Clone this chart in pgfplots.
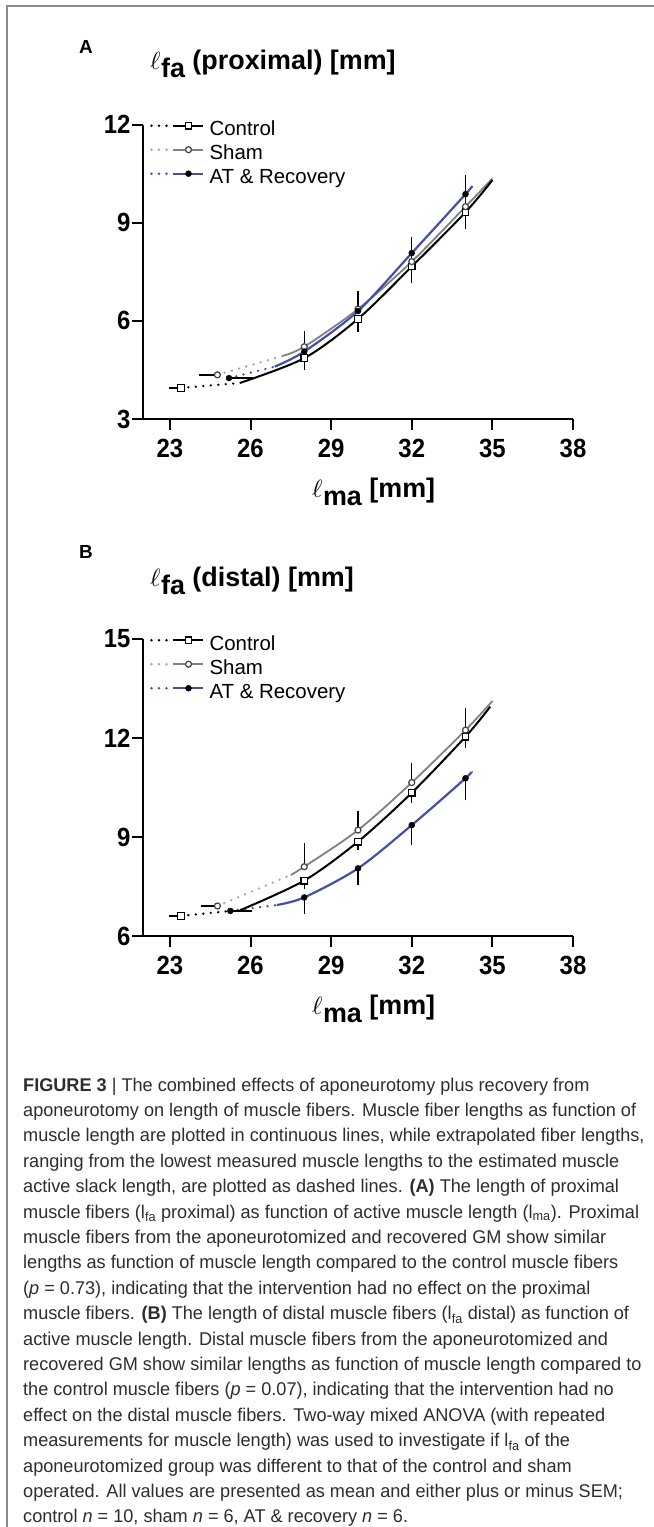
\documentclass[border=0pt]{standalone}
\usepackage{fontspec}
\setmainfont{Liberation Sans}
\usepackage{pgfplots}
\pgfplotsset{compat=1.18}
\definecolor{atblue}{RGB}{66,80,168}
\definecolor{shamline}{RGB}{128,128,128}
\definecolor{shamdot}{RGB}{165,165,165}
\definecolor{framegray}{RGB}{140,140,140}
\definecolor{captxt}{RGB}{45,45,45}

\tikzset{dotseg/.style={line width=2.6bp, dash pattern=on 0bp off 7.5bp, line cap=round}}

\newcommand\ellsub[1]{{\fontsize{10}{10}\selectfont\scalebox{2.5}{$\ell$}}\kern0.5bp\raisebox{-8bp}{#1}}
\newcommand\capline[2]{\node[anchor=base west, inner sep=0pt, font=\fontsize{18.5}{18.5}\selectfont, text=captxt] at (23bp,{-1091bp-#1*25.41bp}) {\scalebox{0.983}[1]{#2}};}

\pgfplotsset{
  panel/.style={
    scale only axis, width=430bp,
    xmin=22, xmax=38,
    axis x line*=bottom, axis y line*=left,
    axis line style={line width=2bp, black},
    xtick={23,26,29,32,35,38},
    tick align=outside, major tick length=11bp,
    every tick/.append style={black, line width=2bp},
    tick label style={font=\bfseries\fontsize{24}{24}\selectfont},
    xticklabel style={yshift=-6bp},
    yticklabel style={xshift=2bp},
    xticklabel={\scalebox{1}[1.1]{\pgfmathprintnumber{\tick}}},
    yticklabel={\scalebox{1}[1.1]{\pgfmathprintnumber{\tick}}},
    /pgf/number format/assume math mode=true,
    clip=false,
    legend style={draw=none, fill=none, at={(axis description cs:0,1)}, anchor=north west,
      xshift=7bp, yshift=4bp, inner sep=0pt, row sep=4bp, column sep=6bp,
      font=\fontsize{20.5}{20.5}\selectfont,
      nodes={inner sep=0pt, text height=15bp, text depth=5bp}},
    legend cell align=left,
  },
  legctrl/.style={legend image code/.code={
    \draw[black, dotseg] (1bp,5bp) -- (20bp,5bp);
    \draw[black, line width=2bp] (22bp,5bp) -- (52bp,5bp);
    \path plot[only marks, mark=square*, mark size=3.3bp, mark options={draw=black, fill=white, line width=1.3bp}] coordinates {(38bp,5bp)};
  }},
  legsham/.style={legend image code/.code={
    \draw[shamdot, dotseg] (1bp,5bp) -- (20bp,5bp);
    \draw[shamline, line width=1.8bp] (22bp,5bp) -- (52bp,5bp);
    \path plot[only marks, mark=*, mark size=3bp, mark options={draw=black!75, fill=white, line width=1.2bp}] coordinates {(38bp,5bp)};
  }},
  legat/.style={legend image code/.code={
    \draw[atblue, dotseg] (1bp,5bp) -- (20bp,5bp);
    \draw[atblue, line width=2.2bp] (22bp,5bp) -- (52bp,5bp);
    \path plot[only marks, mark=*, mark size=3bp, mark options={draw=black, fill=black}] coordinates {(38bp,5bp)};
  }},
  ctrlmk/.style={forget plot, only marks, mark=square*, mark size=3.3bp, mark options={draw=black, fill=white, line width=1.3bp}},
  shammk/.style={forget plot, only marks, mark=*, mark size=3bp, mark options={draw=black!75, fill=white, line width=1.2bp}},
  atmk/.style={forget plot, only marks, mark=*, mark size=3bp, mark options={draw=black, fill=black}},
  errst/.style={error bars/error bar style={black, line width=1.4bp}, error bars/error mark options={black, line width=1.4bp, mark size=3.5bp}},
}

\begin{document}
\begin{tikzpicture}
\useasboundingbox (0,0) rectangle (654bp,-1527bp);
\draw[framegray, line width=1.5bp] (7bp,-1527bp) -- (7bp,-6bp) -- (654bp,-6bp);

% ---------------- Panel A ----------------
\node[font=\bfseries\fontsize{19}{19}\selectfont] at (86bp,-47bp) {A};
\node[anchor=base west, inner sep=0pt, font=\bfseries\fontsize{27}{27}\selectfont] at (150bp,-69bp) {\ellsub{fa} (proximal) [mm]};
\node[anchor=base west, inner sep=0pt, font=\bfseries\fontsize{27}{27}\selectfont] at (312bp,-497bp) {\ellsub{ma} [mm]};

\begin{axis}[panel, at={(143bp,-419bp)}, anchor=south west, height=294.5bp,
  ymin=3, ymax=12, ytick={3,6,9,12}]
\addlegendimage{legctrl}
\addlegendimage{legsham}
\addlegendimage{legat}
\legend{Control, Sham, AT \& Recovery}
% extrapolated (dotted)
\addplot[forget plot, black, dotseg] coordinates {(23.41,3.95) (25.6,4.10)};
\addplot[forget plot, shamdot, dotseg] coordinates {(24.77,4.35) (27.2,4.93)};
\addplot[forget plot, atblue, dotseg] coordinates {(25.20,4.25) (26.9,4.60)};
% fitted (solid)
\addplot[forget plot, shamline, line width=1.8bp, smooth] coordinates {(27.2,4.93) (28,5.21) (30,6.36) (32,7.81) (34,9.49) (35,10.35)};
\addplot[forget plot, black, line width=2bp, smooth] coordinates {(25.6,4.10) (28,4.86) (30,6.06) (32,7.66) (34,9.32) (35,10.30)};
\addplot[forget plot, atblue, line width=2.2bp, smooth] coordinates {(26.9,4.60) (28,5.06) (30,6.30) (32,8.07) (34,9.87) (34.25,10.12)};
% markers
\addplot[ctrlmk, errst, error bars/x dir=minus, error bars/x explicit] coordinates {(23.41,3.95) +- (0.33,0)};
\addplot[ctrlmk, errst, error bars/y dir=minus, error bars/y explicit] coordinates {(28,4.86) +- (0,0.27) (30,6.06) +- (0,0.28) (32,7.66) +- (0,0.41) (34,9.32) +- (0,0.42)};
\addplot[shammk, errst, error bars/x dir=minus, error bars/x explicit] coordinates {(24.77,4.35) +- (0.54,0)};
\addplot[shammk, errst, error bars/y dir=plus, error bars/y explicit] coordinates {(28,5.21) +- (0,0.36) (30,6.36) +- (0,0.46) (32,7.81) +- (0,0.30) (34,9.49) +- (0,0.30)};
\addplot[atmk, errst, error bars/x dir=plus, error bars/x explicit] coordinates {(25.20,4.25) +- (0.78,0)};
\addplot[atmk, errst, error bars/y dir=plus, error bars/y explicit] coordinates {(28,5.06) +- (0,0.30) (30,6.30) +- (0,0.30) (32,8.07) +- (0,0.40) (34,9.87) +- (0,0.49)};
\end{axis}

% ---------------- Panel B ----------------
\node[font=\bfseries\fontsize{19}{19}\selectfont] at (86bp,-552bp) {B};
\node[anchor=base west, inner sep=0pt, font=\bfseries\fontsize{27}{27}\selectfont] at (150bp,-586bp) {\ellsub{fa} (distal) [mm]};
\node[anchor=base west, inner sep=0pt, font=\bfseries\fontsize{27}{27}\selectfont] at (312bp,-1014bp) {\ellsub{ma} [mm]};

\begin{axis}[panel, at={(143bp,-936bp)}, anchor=south west, height=297bp,
  ymin=6, ymax=15, ytick={6,9,12,15}]
\addlegendimage{legctrl}
\addlegendimage{legsham}
\addlegendimage{legat}
\legend{Control, Sham, AT \& Recovery}
\addplot[forget plot, black, dotseg] coordinates {(23.41,6.61) (25.64,6.79)};
\addplot[forget plot, shamdot, dotseg] coordinates {(24.77,6.91) (27.5,7.85)};
\addplot[forget plot, atblue, dotseg] coordinates {(25.25,6.76) (26.98,6.94)};
\addplot[forget plot, shamline, line width=1.8bp, smooth] coordinates {(27.5,7.85) (28,8.10) (30,9.21) (32,10.65) (34,12.24) (35,13.12)};
\addplot[forget plot, black, line width=2bp, smooth] coordinates {(25.64,6.79) (28,7.68) (30,8.86) (32,10.34) (34,12.04) (34.92,12.95)};
\addplot[forget plot, atblue, line width=2.2bp, smooth] coordinates {(26.98,6.94) (28,7.17) (30,8.05) (32,9.36) (34,10.78) (34.22,10.98)};
\addplot[ctrlmk, errst, error bars/x dir=minus, error bars/x explicit] coordinates {(23.41,6.61) +- (0.33,0)};
\addplot[ctrlmk, errst, error bars/y dir=minus, error bars/y explicit] coordinates {(28,7.68) +- (0,0.15) (30,8.86) +- (0,0.15) (32,10.34) +- (0,0.20) (34,12.04) +- (0,0.25)};
\addplot[shammk, errst, error bars/x dir=minus, error bars/x explicit] coordinates {(24.77,6.91) +- (0.50,0)};
\addplot[shammk, errst, error bars/y dir=plus, error bars/y explicit] coordinates {(28,8.10) +- (0,0.60) (30,9.21) +- (0,0.46) (32,10.65) +- (0,0.48) (34,12.24) +- (0,0.56)};
\addplot[atmk, errst, error bars/x dir=plus, error bars/x explicit] coordinates {(25.25,6.76) +- (0.66,0)};
\addplot[atmk, errst, error bars/y dir=minus, error bars/y explicit] coordinates {(28,7.17) +- (0,0.40) (30,8.05) +- (0,0.40) (32,9.36) +- (0,0.50) (34,10.78) +- (0,0.56)};
\end{axis}

% ---------------- Caption ----------------
\capline{0}{\textbf{FIGURE 3} \textbar{} The combined effects of aponeurotomy plus recovery from}
\capline{1}{aponeurotomy on length of muscle fibers. Muscle fiber lengths as function of}
\capline{2}{muscle length are plotted in continuous lines, while extrapolated fiber lengths,}
\capline{3}{ranging from the lowest measured muscle lengths to the estimated muscle}
\capline{4}{active slack length, are plotted as dashed lines. \textbf{(A)} The length of proximal}
\capline{5}{muscle fibers (l\textsubscript{fa} proximal) as function of active muscle length (l\textsubscript{ma}). Proximal}
\capline{6}{muscle fibers from the aponeurotomized and recovered GM show similar}
\capline{7}{lengths as function of muscle length compared to the control muscle fibers}
\capline{8}{(\textit{p} = 0.73), indicating that the intervention had no effect on the proximal}
\capline{9}{muscle fibers. \textbf{(B)} The length of distal muscle fibers (l\textsubscript{fa} distal) as function of}
\capline{10}{active muscle length. Distal muscle fibers from the aponeurotomized and}
\capline{11}{recovered GM show similar lengths as function of muscle length compared to}
\capline{12}{the control muscle fibers (\textit{p} = 0.07), indicating that the intervention had no}
\capline{13}{effect on the distal muscle fibers. Two-way mixed ANOVA (with repeated}
\capline{14}{measurements for muscle length) was used to investigate if l\textsubscript{fa} of the}
\capline{15}{aponeurotomized group was different to that of the control and sham}
\capline{16}{operated. All values are presented as mean and either plus or minus SEM;}
\capline{17}{control \textit{n} = 10, sham \textit{n} = 6, AT \& recovery \textit{n} = 6.}
\end{tikzpicture}
\end{document}
